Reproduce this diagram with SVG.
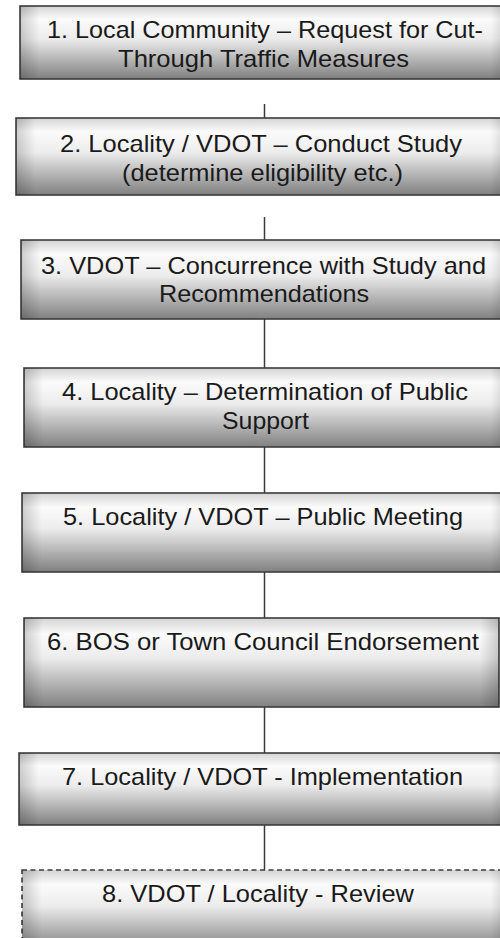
<svg xmlns="http://www.w3.org/2000/svg" width="500" height="938" viewBox="0 0 500 938">
<defs>
<linearGradient id="g" x1="0" y1="0" x2="0" y2="1">
<stop offset="0" stop-color="#d4d4d4"/>
<stop offset="0.18" stop-color="#fbfbfb"/>
<stop offset="0.45" stop-color="#ececec"/>
<stop offset="1" stop-color="#808080"/>
</linearGradient>
<linearGradient id="h" x1="0" y1="0" x2="1" y2="0">
<stop offset="0" stop-color="#000" stop-opacity="0.18"/>
<stop offset="0.04" stop-color="#000" stop-opacity="0"/>
<stop offset="0.96" stop-color="#000" stop-opacity="0"/>
<stop offset="1" stop-color="#000" stop-opacity="0.18"/>
</linearGradient>
</defs>
<style>
.box{fill:url(#g);stroke:#3c3c3c;stroke-width:1.6}
.shade{fill:url(#h);stroke:none}
.dash{stroke-dasharray:5 3.5}
.t{font-family:"Liberation Sans",Arial,sans-serif;font-size:24px;fill:#1a1a1a;text-anchor:middle}
.c{stroke:#3a3a3a;stroke-width:1.5;fill:none}
</style>
<rect width="500" height="938" fill="#fff"/>
<g id="connectors">
<line class="c" x1="264.5" y1="104" x2="264.5" y2="118"/>
<line class="c" x1="264.5" y1="217" x2="264.5" y2="240"/>
<line class="c" x1="264.5" y1="319" x2="264.5" y2="368"/>
<line class="c" x1="264.5" y1="447" x2="264.5" y2="493"/>
<line class="c" x1="264.5" y1="572" x2="264.5" y2="618"/>
<line class="c" x1="264.5" y1="707" x2="264.5" y2="753"/>
<line class="c" x1="264.5" y1="825" x2="264.5" y2="870"/>
</g>
<g id="node1">
<rect class="box" x="20" y="6" width="500" height="73"/>
<rect class="shade" x="20" y="6" width="490" height="73"/>
<text class="t" x="265" y="38" textLength="436" lengthAdjust="spacingAndGlyphs">1. Local Community – Request for Cut-</text>
<text class="t" x="263.5" y="67" textLength="291" lengthAdjust="spacingAndGlyphs">Through Traffic Measures</text>
</g>
<g id="node2">
<rect class="box" x="16" y="118" width="500" height="77"/>
<rect class="shade" x="16" y="118" width="494" height="77"/>
<text class="t" x="261" y="152" textLength="402" lengthAdjust="spacingAndGlyphs">2. Locality / VDOT – Conduct Study</text>
<text class="t" x="262.5" y="181" textLength="281" lengthAdjust="spacingAndGlyphs">(determine eligibility etc.)</text>
</g>
<g id="node3">
<rect class="box" x="21" y="240" width="500" height="79"/>
<rect class="shade" x="21" y="240" width="489" height="79"/>
<text class="t" x="263.5" y="274" textLength="445" lengthAdjust="spacingAndGlyphs">3. VDOT – Concurrence with Study and</text>
<text class="t" x="264" y="302" textLength="210" lengthAdjust="spacingAndGlyphs">Recommendations</text>
</g>
<g id="node4">
<rect class="box" x="24" y="368" width="500" height="79"/>
<rect class="shade" x="24" y="368" width="486" height="79"/>
<text class="t" x="265" y="400" textLength="406" lengthAdjust="spacingAndGlyphs">4. Locality – Determination of Public</text>
<text class="t" x="265.5" y="429" textLength="87" lengthAdjust="spacingAndGlyphs">Support</text>
</g>
<g id="node5">
<rect class="box" x="22" y="493" width="500" height="79"/>
<rect class="shade" x="22" y="493" width="488" height="79"/>
<text class="t" x="263" y="525" textLength="400" lengthAdjust="spacingAndGlyphs">5. Locality / VDOT – Public Meeting</text>
</g>
<g id="node6">
<rect class="box" x="24" y="618" width="475" height="89"/>
<rect class="shade" x="24" y="618" width="475" height="89"/>
<text class="t" x="263" y="650" textLength="432" lengthAdjust="spacingAndGlyphs">6. BOS or Town Council Endorsement</text>
</g>
<g id="node7">
<rect class="box" x="19" y="753" width="500" height="72"/>
<rect class="shade" x="19" y="753" width="491" height="72"/>
<text class="t" x="262.5" y="785" textLength="401" lengthAdjust="spacingAndGlyphs">7. Locality / VDOT - Implementation</text>
</g>
<g id="node8">
<rect class="box dash" x="22" y="870" width="500" height="80"/>
<rect class="shade" x="22" y="870" width="488" height="80"/>
<text class="t" x="258" y="902" textLength="312" lengthAdjust="spacingAndGlyphs">8. VDOT / Locality - Review</text>
</g>
</svg>
